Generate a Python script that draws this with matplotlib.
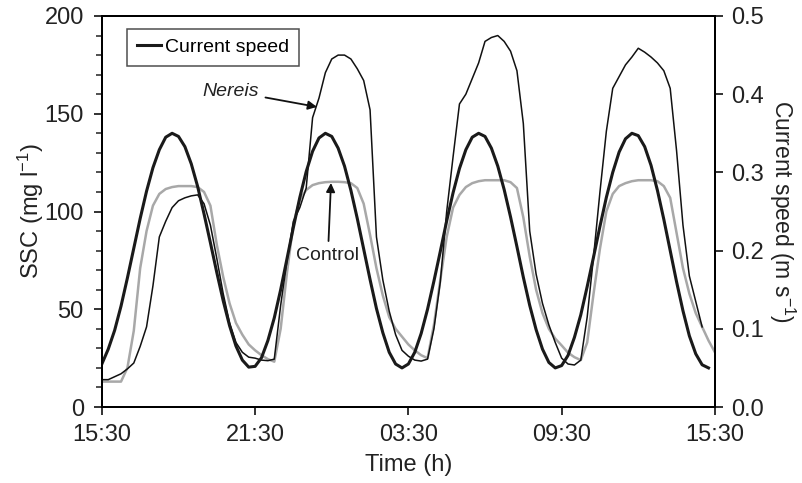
import numpy as np
import matplotlib
matplotlib.use("Agg")
import matplotlib.pyplot as plt
from matplotlib.ticker import MultipleLocator, FormatStrFormatter

plt.rcParams['font.family'] = ['Liberation Sans', 'DejaVu Sans']
plt.rcParams['mathtext.fontset'] = 'custom'
plt.rcParams['mathtext.rm'] = 'Liberation Sans'
plt.rcParams['mathtext.it'] = 'Liberation Sans:italic'

# --- data (time in h after 15:30, 0.25 h steps) ---
TICK_HOURS = [0, 6, 12, 18, 24]
TICK_LABELS = ["15:30", "21:30", "03:30", "09:30", "15:30"]

# current speed (m s-1), 0 .. 23.75 h
current = [
    0.055, 0.074, 0.098, 0.129, 0.165, 0.203, 0.241, 0.276, 0.306, 0.329, 0.345, 0.350,
    0.346, 0.333, 0.311, 0.282, 0.247, 0.210, 0.172, 0.136, 0.104, 0.078, 0.060, 0.051,
    0.052, 0.063, 0.085, 0.114, 0.150, 0.190, 0.230, 0.268, 0.301, 0.327, 0.344, 0.350,
    0.346, 0.331, 0.308, 0.277, 0.241, 0.202, 0.163, 0.126, 0.095, 0.070, 0.055, 0.050,
    0.055, 0.070, 0.094, 0.125, 0.161, 0.199, 0.238, 0.274, 0.305, 0.329, 0.345, 0.350,
    0.346, 0.331, 0.308, 0.278, 0.243, 0.205, 0.166, 0.130, 0.099, 0.074, 0.057, 0.050,
    0.053, 0.066, 0.089, 0.118, 0.154, 0.192, 0.231, 0.268, 0.300, 0.326, 0.343, 0.350,
    0.347, 0.333, 0.309, 0.277, 0.240, 0.200, 0.160, 0.123, 0.091, 0.068, 0.054, 0.050,
]

# SSC control (mg l-1), 0 .. 24 h
control = [
    13, 13, 13, 13, 20, 39, 71, 90, 103, 109, 111.5, 112.5,
    113, 113, 113, 112.5, 110, 103, 83, 66.6, 53, 43, 37, 32,
    29, 26.5, 24.5, 23.2, 40, 69, 94, 106, 111, 113.5, 114.5, 115,
    115.2, 115.2, 115, 114.5, 112, 104, 88, 71, 57, 46, 40, 36,
    32, 29, 26.5, 25, 42, 65, 87, 102, 108.5, 112.5, 114.5, 115.5,
    116, 116, 116, 116, 115, 112, 97, 77, 60, 48, 40, 35,
    31.5, 27.8, 25.5, 24, 33, 58, 81, 100, 109, 113, 114.5, 115.5,
    116, 116, 116, 115.5, 113, 107, 89, 71, 58, 48, 41, 34,
    28,
]

# SSC Nereis (mg l-1), 0 .. 23.5 h
nereis = [
    14, 14, 15.5, 17, 19.5, 22.5, 31, 41, 62, 87, 95, 102,
    105.5, 107, 108, 108.5, 104, 93, 76, 58, 43, 33, 28, 25.5,
    25, 24, 23.7, 24.5, 52, 75, 95, 102, 112, 148, 158, 171,
    178, 180, 180, 178, 173, 167, 152, 87, 65, 49, 37, 29,
    26, 24, 23.5, 24.5, 40, 64, 100, 128, 155, 160, 168, 176,
    187, 189, 190, 187, 182, 172, 145, 90, 68, 53, 42, 33,
    25, 22, 21.5, 24, 46, 77, 110, 141, 163, 169, 175, 179,
    183.5, 181.5, 179, 176, 172, 163, 131, 93, 67, 54, 41,
]

t_current = np.arange(len(current)) * 0.25
t_control = np.arange(len(control)) * 0.25
t_nereis = np.arange(len(nereis)) * 0.25

fig = plt.figure(figsize=(8.02, 4.83), dpi=100)
ax = fig.add_axes([0.127, 0.1573, 0.7644, 0.8096])
ax2 = ax.twinx()

ax.plot(t_control, control, color='#a8a8a8', lw=1.8, solid_joinstyle='round')
ax.plot(t_nereis, nereis, color='#111111', lw=1.1, solid_joinstyle='round')
ax2.plot(t_current, current, color='#1a1a1a', lw=2.2, label='Current speed',
         solid_joinstyle='round')

ax.set_xlim(0, 24)
ax.set_ylim(0, 200)
ax2.set_ylim(0, 0.5)

ax.set_xticks(TICK_HOURS)
ax.set_xticklabels(TICK_LABELS)
ax.yaxis.set_major_locator(MultipleLocator(50))
ax.yaxis.set_minor_locator(MultipleLocator(10))
ax2.yaxis.set_major_locator(MultipleLocator(0.1))
ax2.yaxis.set_major_formatter(FormatStrFormatter('%.1f'))

for a in (ax, ax2):
    for s in a.spines.values():
        s.set_linewidth(1.4)
    a.tick_params(axis='both', which='major', direction='out', length=6,
                  width=1.3, labelsize=17, pad=6, colors='#222222',
                  labelcolor='#222222')
    a.tick_params(axis='both', which='minor', direction='out', length=4.5,
                  width=1.1, colors='#222222')
ax.tick_params(axis='y', which='major', pad=7)

ax.set_xlabel('Time (h)', fontsize=17, labelpad=6, color='#222222')
ax.set_ylabel('SSC (mg l$^{-1}$)', fontsize=17, labelpad=-1, color='#222222')
ax2.set_ylabel('Current speed (m s$^{-1}$)', fontsize=16.5, rotation=270,
               va='bottom', labelpad=2, color='#222222')

leg = ax2.legend(loc='upper left', fontsize=14, frameon=True, fancybox=False,
                 handlelength=1.25, handletextpad=0.2, borderpad=0.5,
                 borderaxespad=0, bbox_to_anchor=(0.041, 0.967))
leg.get_frame().set_edgecolor('#222222')
leg.get_frame().set_linewidth(1.1)

ax.annotate('Nereis', xy=(8.42, 153.5), xytext=(5.03, 161.6),
            fontsize=14, style='italic', ha='center', va='center',
            color='#222222',
            arrowprops=dict(arrowstyle='-|>', color='#111111', lw=1.3,
                            mutation_scale=13, shrinkA=3, shrinkB=0))
ax.annotate('Control', xy=(8.97, 114.6), xytext=(8.85, 77.7),
            fontsize=14, ha='center', va='center', color='#222222',
            arrowprops=dict(arrowstyle='-|>', color='#111111', lw=1.3,
                            mutation_scale=13, shrinkA=2, shrinkB=0))

fig.savefig('out.png', dpi=100)
